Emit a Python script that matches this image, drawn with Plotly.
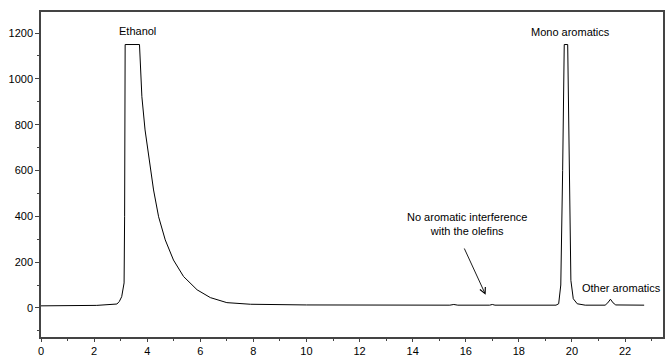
import plotly.graph_objects as go

# Retention time (min) and detector signal
time_min = [0.0, 2.05, 2.1, 2.86, 2.95, 3.04, 3.1, 3.13, 3.15, 3.17, 3.71, 3.75, 3.8,
            3.92, 4.09, 4.24, 4.43, 4.68, 4.99, 5.37, 5.88, 6.38, 7.0, 7.89, 10.0,
            13.0, 15.4, 15.55, 15.7, 16.9, 17.0, 17.1, 19.4, 19.5, 19.58, 19.65,
            19.71, 19.84, 19.9, 19.96, 20.05, 20.2, 20.5, 21.25, 21.35, 21.45, 21.55,
            21.65, 22.72]
signal = [9, 9, 11, 17, 28, 49, 80, 109, 400, 1150, 1150, 1040, 922,
          777, 631, 515, 398, 297, 209, 137, 79, 45, 23, 16, 13,
          12, 12, 15, 12, 12, 15, 12, 12, 18, 100, 600,
          1150, 1150, 600, 120, 40, 18, 12, 12, 22, 38, 22,
          13, 12]

x_ticks = [0, 2, 4, 6, 8, 10, 12, 14, 16, 18, 20, 22]
y_ticks = [0, 200, 400, 600, 800, 1000, 1200]

fig = go.Figure()
fig.add_trace(go.Scatter(x=time_min, y=signal, mode="lines",
                         line=dict(color="black", width=1), showlegend=False,
                         hoverinfo="skip"))

font = dict(family="Liberation Sans, Arial, sans-serif", size=11, color="black")

fig.add_annotation(x=3.65, y=1210, text="Ethanol", showarrow=False, font=font)
fig.add_annotation(x=19.95, y=1205, text="Mono aromatics", showarrow=False, font=font)
fig.add_annotation(x=21.85, y=88, text="Other aromatics", showarrow=False, font=font)
fig.add_annotation(x=16.04, y=368, text="No aromatic interference<br>with the olefins",
                   showarrow=False, font=font)
fig.add_annotation(x=16.75, y=57, ax=15.92, ay=266, xref="x", yref="y",
                   axref="x", ayref="y", text="", showarrow=True,
                   arrowhead=5, arrowsize=1.3, arrowwidth=0.9, arrowcolor="black")

fig.update_xaxes(range=[0, 23.43], tickvals=x_ticks, ticks="outside", ticklen=3,
                 tickcolor="#444", showline=True, linecolor="#444", linewidth=1.5,
                 mirror=True, showgrid=False, zeroline=False, tickfont=font,
                 automargin=False,
                 minor=dict(dtick=1, tick0=0, ticks="outside", ticklen=2, tickcolor="#444"))
fig.update_yaxes(range=[-127, 1292], tickvals=y_ticks, ticks="outside", ticklen=4,
                 tickcolor="#444", showline=True, linecolor="#444", linewidth=1.5,
                 mirror=True, showgrid=False, zeroline=False, tickfont=font,
                 automargin=False,
                 minor=dict(dtick=100, tick0=0, ticks="outside", ticklen=2, tickcolor="#444"))

fig.update_layout(width=667, height=357, margin=dict(l=41, r=4, t=12, b=20),
                  plot_bgcolor="white", paper_bgcolor="white")

fig.write_html("out.html")
